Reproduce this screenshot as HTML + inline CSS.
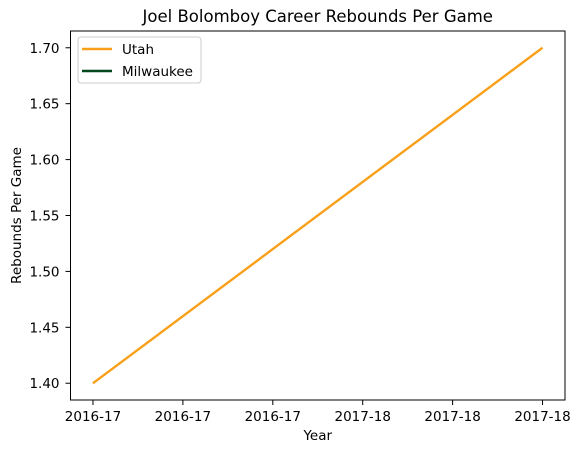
<!DOCTYPE html>
<html><head><meta charset="utf-8"><style>
body{margin:0;background:#fff;font-family:"DejaVu Sans","Liberation Sans",sans-serif}
</style></head><body>
<svg id="c" width="582" height="453" xmlns="http://www.w3.org/2000/svg" font-family="DejaVu Sans, Liberation Sans, sans-serif"></svg>
<script>
const xLabels=["2016-17","2016-17","2016-17","2017-18","2017-18","2017-18"];
const xTickVals=[0,0.2,0.4,0.6,0.8,1.0];
const yTicks=[1.40,1.45,1.50,1.55,1.60,1.65,1.70];
const utahX=[0,1];
const utahY=[1.40,1.70];
const milX=[];
const milY=[];
const L=70.5,R=565,T=31,B=400;
const xmin=-0.05,xmax=1.05,ymin=1.385,ymax=1.715;
const sx=v=>L+(v-xmin)/(xmax-xmin)*(R-L);
const sy=v=>B-(v-ymin)/(ymax-ymin)*(B-T);
const svg=document.getElementById('c');
const NS="http://www.w3.org/2000/svg";
function mk(t,a,p){const e=document.createElementNS(NS,t);for(const k in a)e.setAttribute(k,a[k]);(p||svg).appendChild(e);return e;}
let t=mk('text',{x:(L+R)/2,y:22,'text-anchor':'middle','font-size':16.5});t.textContent="Joel Bolomboy Career Rebounds Per Game";


yTicks.forEach(v=>{const y=sy(v);
 let l=mk('line',{x1:L-5,x2:L,y1:y,y2:y,stroke:'#000'});
 
 
 let s=mk('text',{x:L-11,y:y+5,'text-anchor':'end','font-size':13.5});s.textContent=v.toFixed(2);
 
 });
xTickVals.forEach((v,i)=>{const x=sx(v);
 let l=mk('line',{x1:x,x2:x,y1:B,y2:B+5,stroke:'#000'});
 
 
 let s=mk('text',{x:x,y:B+21,'text-anchor':'middle','font-size':13.5});s.textContent=xLabels[i];
 
 });
t=mk('text',{x:(L+R)/2,y:440,'text-anchor':'middle','font-size':13.5});t.textContent="Year";


const my=(T+B)/2;
t=mk('text',{x:21,y:my,'text-anchor':'middle','font-size':13.5,transform:`rotate(-90 21 ${my})`});t.textContent="Rebounds Per Game";


function series(xs,ys,col,name){if(!xs.length)return;
 let p=mk('polyline',{points:xs.map((x,i)=>sx(x)+','+sy(ys[i])).join(' '),fill:'none',stroke:col,'stroke-width':2.4});
 
 }
series(utahX,utahY,'#F9A01B','utah-line');
series(milX,milY,'#00471B','milwaukee-line');
let f=mk('rect',{x:L,y:T,width:R-L,height:B-T,fill:'none',stroke:'#000','stroke-width':1});


const g=mk('g',{});


mk('rect',{x:78,y:37,width:123,height:46,rx:3,fill:'#fff',stroke:'#ccc'},g);
[['Utah','#F9A01B',49],['Milwaukee','#00471B',71]].forEach(([n,c,y])=>{
 let l=mk('line',{x1:82,x2:112,y1:y,y2:y,stroke:c,'stroke-width':2.4},g);
 
 
 let s=mk('text',{x:122,y:y+5,'font-size':13.5},g);s.textContent=n;
 
 });
</script>
</body></html>
